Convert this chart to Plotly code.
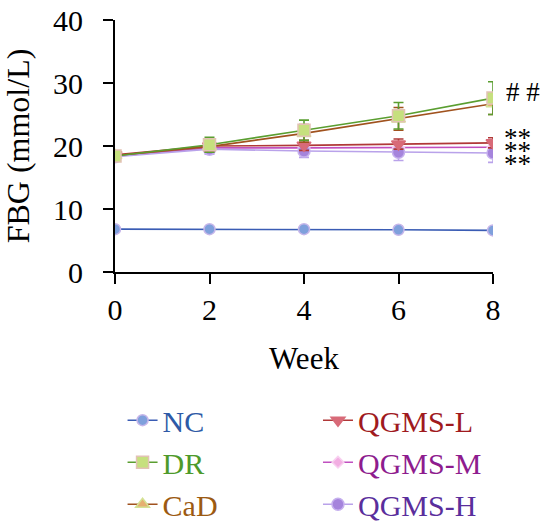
import plotly.graph_objects as go

weeks = [0, 2, 4, 6, 8]
groups = ["NC", "DR", "CaD", "QGMS-L", "QGMS-M", "QGMS-H"]
nc = [6.8, 6.8, 6.8, 6.7, 6.6]
nc_err = [0.2, 0.2, 0.2, 0.2, 0.2]
dr = [18.4, 20.2, 22.5, 24.8, 27.6]
dr_err = [0.6, 1.2, 1.6, 2.1, 2.6]
cad = [18.5, 19.9, 22.0, 24.3, 26.7]
cad_err = [0.6, 0.8, 1.4, 1.8, 1.7]
ql = [18.6, 20.0, 20.1, 20.3, 20.5]
ql_err = [0.6, 0.6, 0.8, 0.8, 0.8]
qm = [18.4, 19.7, 19.7, 19.8, 19.8]
qm_err = [0.6, 0.6, 0.7, 0.8, 0.8]
qh = [18.3, 19.5, 19.2, 19.0, 18.9]
qh_err = [0.7, 0.8, 1.0, 1.3, 1.5]

series = [nc, dr, cad, ql, qm, qh]
errors = [nc_err, dr_err, cad_err, ql_err, qm_err, qh_err]
line_colors = ["#3a5cb4", "#5a9e30", "#a0521e", "#b03838", "#c050c0", "#b9a2ea"]
marker_fill = ["#7fa0dc", "#c6e07e", "#e6b072", "#d86a78", "#f2aee2", "#a584dc"]
marker_edge = ["#c6b6ea", "#e2c2b4", "#d4e294", "#d86a78", "#f8d0f0", "#c6b0ee"]
symbols = ["circle", "square", "triangle-up", "triangle-down", "diamond", "circle"]
sizes = [11, 12, 12, 12, 9, 12]
text_colors = ["#2e5aa6", "#4e9a2a", "#9c5a12", "#a01a1e", "#8e1c8e", "#5a2e9c"]
legends = ["legend", "legend", "legend", "legend2", "legend2", "legend2"]

FONT = "Liberation Serif"
fig = go.Figure()
order = [0, 4, 5, 3, 2, 1]
for i in order:
    fig.add_trace(go.Scatter(
        x=weeks, y=series[i], mode="lines+markers",
        name=f"<span style='color:{text_colors[i]}'>{groups[i]}</span>",
        line=dict(color=line_colors[i], width=1.6),
        marker=dict(symbol=symbols[i], size=sizes[i], color=marker_fill[i],
                    line=dict(color=marker_edge[i], width=1.5)),
        error_y=dict(type="data", array=errors[i], color=line_colors[i],
                     thickness=1.6, width=5),
        legend=legends[i], legendrank=i,
    ))

fig.update_layout(
    width=544, height=527,
    margin=dict(l=115, r=51, t=20, b=255),
    plot_bgcolor="white", paper_bgcolor="white",
    font=dict(family=FONT, color="black"),
    xaxis=dict(range=[0, 8], tickvals=weeks, showline=True, linecolor="black",
               linewidth=2, ticks="outside", ticklen=10, tickwidth=2,
               tickcolor="black", showgrid=False, zeroline=False,
               automargin=False, ticklabelstandoff=0,
               tickfont=dict(size=30, family=FONT),
               title=dict(text="Week", font=dict(size=31, family=FONT), standoff=22)),
    yaxis=dict(range=[0, 40], tickvals=[0, 10, 20, 30, 40], showline=True,
               linecolor="black", linewidth=2, ticks="outside", ticklen=10,
               tickwidth=2, tickcolor="black", showgrid=False, zeroline=False,
               automargin=False, ticklabelstandoff=14,
               tickfont=dict(size=30, family=FONT),
               title=dict(text="FBG (mmol/L)", font=dict(size=32, family=FONT), standoff=18)),
    legend=dict(x=0.02, y=0.252, xref="paper", yref="container",
                xanchor="left", yanchor="top",
                font=dict(size=30, family=FONT), bgcolor="rgba(0,0,0,0)",
                traceorder="normal", itemwidth=30),
    legend2=dict(x=0.537, y=0.252, xref="paper", yref="container",
                 xanchor="left", yanchor="top",
                 font=dict(size=30, family=FONT), bgcolor="rgba(0,0,0,0)",
                 traceorder="normal", itemwidth=30),
    showlegend=True,
)

fig.add_annotation(x=8, y=dr[-1], text="# #", showarrow=False, xanchor="left",
                   xshift=11, yshift=6, font=dict(size=27, family=FONT, color="black"))
stars = "<br>".join(["<span style='font-size:27px'>**</span>"] * 3)
fig.add_annotation(x=8, y=qm[-1], text=stars, showarrow=False, xanchor="left",
                   xshift=9, yshift=-4, align="left",
                   font=dict(size=10, family=FONT, color="black"))

fig.write_html("out.html")
